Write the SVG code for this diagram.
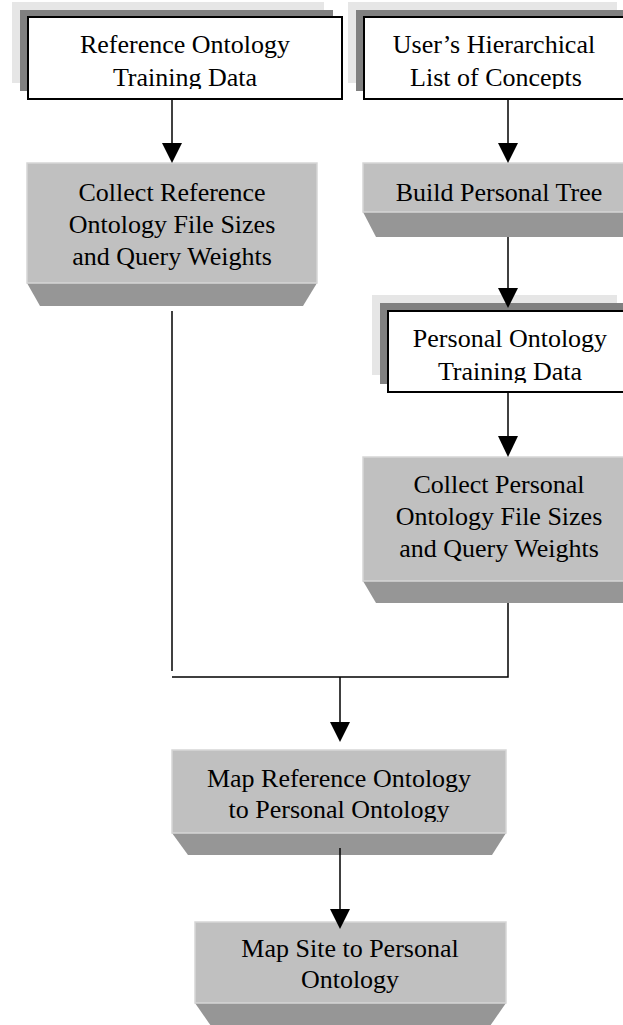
<svg xmlns="http://www.w3.org/2000/svg" width="623" height="1025" viewBox="0 0 623 1025">
<style>
.t{font-family:"Liberation Serif","Times New Roman",serif;font-size:26px;fill:#000;text-anchor:middle}
.sh1{fill:#e6e6e6}
.sh2{fill:#808080}
.wb{fill:#fff;stroke:#000;stroke-width:2}
.face{fill:#c0c0c0;stroke:#d6d6d6;stroke-width:1.5}
.bev{fill:#969696}
.ln{stroke:#000;stroke-width:1.5;fill:none}
.ah{fill:#000}
</style>
<defs>
<clipPath id="cA"><rect x="0" y="0" width="623" height="89"/></clipPath>
<clipPath id="cC"><rect x="0" y="300" width="623" height="83"/></clipPath>
<clipPath id="cMR"><rect x="0" y="750" width="623" height="72"/></clipPath>
<clipPath id="cMS"><rect x="0" y="920" width="623" height="73"/></clipPath>
</defs>
<rect width="623" height="1025" fill="#fff"/>

<g id="ref-training">
<rect class="sh1" x="12" y="2" width="312" height="81"/>
<rect class="sh2" x="20" y="10" width="313" height="81"/>
<rect class="wb" x="28" y="17" width="314" height="82"/>
<g clip-path="url(#cA)">
<text class="t" x="185" y="53">Reference Ontology</text>
<text class="t" x="185" y="86">Training Data</text>
</g>
</g>

<g id="user-list">
<rect class="sh1" x="348" y="2" width="269" height="81"/>
<rect class="sh2" x="356" y="10" width="280" height="81"/>
<rect class="wb" x="364" y="17" width="280" height="82"/>
<g clip-path="url(#cA)">
<text class="t" x="494" y="53">User’s Hierarchical</text>
<text class="t" x="496" y="86">List of Concepts</text>
</g>
</g>

<g id="collect-ref">
<polygon class="bev" points="27,283 317,283 303,306 40,306"/>
<rect class="face" x="27" y="163" width="290" height="120"/>
<text class="t" x="172" y="201">Collect Reference</text>
<text class="t" x="172" y="233">Ontology File Sizes</text>
<text class="t" x="172" y="265">and Query Weights</text>
</g>

<g id="build-tree">
<polygon class="bev" points="363,212 640,212 640,237 376,237"/>
<rect class="face" x="363" y="163" width="280" height="49"/>
<text class="t" x="499" y="201">Build Personal Tree</text>
</g>

<g id="personal-training">
<rect class="sh1" x="372" y="295" width="245" height="80"/>
<rect class="sh2" x="380" y="303" width="260" height="81"/>
<rect class="wb" x="388" y="311" width="260" height="81"/>
<g clip-path="url(#cC)">
<text class="t" x="510" y="347">Personal Ontology</text>
<text class="t" x="510" y="380">Training Data</text>
</g>
</g>

<g id="collect-personal">
<polygon class="bev" points="363,581 640,581 640,603 376,603"/>
<rect class="face" x="363" y="457" width="280" height="124"/>
<text class="t" x="499" y="493">Collect Personal</text>
<text class="t" x="499" y="525">Ontology File Sizes</text>
<text class="t" x="499" y="557">and Query Weights</text>
</g>

<g id="map-ref">
<polygon class="bev" points="172,833 506,833 492,855 188,855"/>
<rect class="face" x="172" y="750" width="334" height="83"/>
<g clip-path="url(#cMR)">
<text class="t" x="339" y="787">Map Reference Ontology</text>
<text class="t" x="339" y="818">to Personal Ontology</text>
</g>
</g>

<g id="map-site">
<polygon class="bev" points="195,1003 506,1003 490,1026 211,1026"/>
<rect class="face" x="195" y="922" width="311" height="81"/>
<g clip-path="url(#cMS)">
<text class="t" x="350" y="957">Map Site to Personal</text>
<text class="t" x="350" y="988">Ontology</text>
</g>
</g>

<g id="connectors">
<line class="ln" x1="172" y1="99" x2="172" y2="145"/>
<polygon class="ah" points="162,143 182,143 172,163"/>
<line class="ln" x1="508" y1="99" x2="508" y2="145"/>
<polygon class="ah" points="498,143 518,143 508,163"/>
<line class="ln" x1="508" y1="237" x2="508" y2="290"/>
<polygon class="ah" points="498,288 518,288 508,308"/>
<line class="ln" x1="508" y1="392" x2="508" y2="438"/>
<polygon class="ah" points="498,436 518,436 508,457"/>
<line class="ln" x1="172" y1="311" x2="172" y2="671"/>
<polyline class="ln" points="508,603 508,677 172,677"/>
<line class="ln" x1="340" y1="677" x2="340" y2="724"/>
<polygon class="ah" points="330,722 350,722 340,742"/>
<line class="ln" x1="340" y1="848" x2="340" y2="911"/>
<polygon class="ah" points="330,909 350,909 340,929"/>
</g>
</svg>
